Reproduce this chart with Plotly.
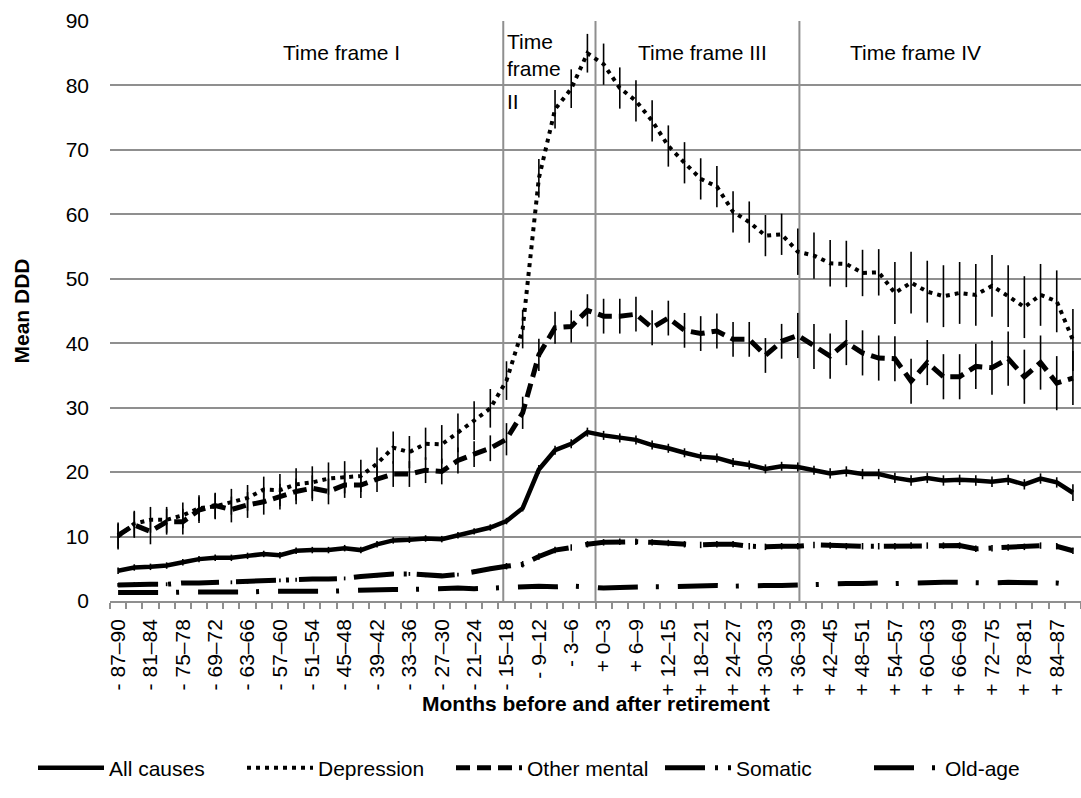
import plotly.graph_objects as go

# Three-month periods relative to retirement
periods = [
    "- 87–90", "- 84–87", "- 81–84", "- 78–81", "- 75–78", "- 72–75", "- 69–72", "- 66–69",
    "- 63–66", "- 60–63", "- 57–60", "- 54–57", "- 51–54", "- 48–51", "- 45–48", "- 42–45",
    "- 39–42", "- 36–39", "- 33–36", "- 30–33", "- 27–30", "- 24–27", "- 21–24", "- 18–21",
    "- 15–18", "- 12–15", "- 9–12", "- 6–9", "- 3–6", "- 0–3",
    "+ 0–3", "+ 3–6", "+ 6–9", "+ 9–12", "+ 12–15", "+ 15–18", "+ 18–21", "+ 21–24",
    "+ 24–27", "+ 27–30", "+ 30–33", "+ 33–36", "+ 36–39", "+ 39–42", "+ 42–45", "+ 45–48",
    "+ 48–51", "+ 51–54", "+ 54–57", "+ 57–60", "+ 60–63", "+ 63–66", "+ 66–69", "+ 69–72",
    "+ 72–75", "+ 75–78", "+ 78–81", "+ 81–84", "+ 84–87", "+ 87–90",
]

all_causes = [
    4.7, 5.2, 5.3, 5.5, 6.0, 6.5, 6.7, 6.7, 7.0, 7.3, 7.1, 7.8, 7.9, 7.9, 8.2, 7.9,
    8.8, 9.4, 9.5, 9.7, 9.6, 10.2, 10.8, 11.4, 12.4, 14.4, 20.4, 23.4, 24.4, 26.2,
    25.7, 25.3, 25.0, 24.2, 23.7, 23.0, 22.4, 22.2, 21.5, 21.1, 20.5, 20.9, 20.8, 20.3,
    19.8, 20.1, 19.7, 19.7, 19.1, 18.7, 19.1, 18.7, 18.8, 18.7, 18.5, 18.8, 18.1, 19.0,
    18.4, 16.8,
]
all_causes_err = [0.5] * 26 + [0.7] * 18 + [0.8] * 15 + [1.3]

depression = [
    10.0, 12.0, 12.6, 12.6, 13.3, 14.4, 14.7, 15.4, 16.0, 17.3, 17.2, 18.1, 18.4, 19.0,
    19.2, 19.4, 21.3, 23.8, 23.1, 24.4, 24.3, 26.1, 28.0, 29.9, 34.2, 42.2, 65.6, 76.3,
    79.5, 85.0, 83.3, 79.6, 77.6, 74.5, 70.6, 68.0, 65.5, 64.3, 60.4, 58.8, 56.7, 56.9,
    54.2, 53.6, 52.4, 52.3, 50.9, 51.0, 47.8, 49.4, 48.0, 47.3, 47.8, 47.5, 48.9, 47.3,
    45.6, 47.5, 46.5, 40.5,
]
depression_err = [2.0] * 10 + [2.5] * 10 + [3.0] * 10 + [3.2] * 12 + [3.6] * 6 + [4.8] * 12

other_mental = [
    10.2, 11.8, 10.8, 12.3, 12.3, 14.1, 14.8, 14.2, 14.9, 15.4, 16.2, 17.0, 17.5, 17.0,
    18.0, 18.0, 18.9, 19.7, 19.7, 20.3, 20.1, 21.8, 22.8, 23.7, 25.1, 29.2, 38.2, 42.4,
    42.6, 45.1, 44.2, 44.2, 44.5, 42.4, 43.9, 42.0, 41.5, 41.9, 40.6, 40.6, 38.1, 40.3,
    41.2, 39.5, 38.0, 40.1, 38.5, 37.7, 37.6, 34.1, 37.0, 34.8, 34.8, 36.4, 36.2, 37.6,
    34.8, 37.0, 33.8, 34.6,
]
other_mental_err = [2.0] * 24 + [2.5] * 6 + [2.7] * 12 + [3.5] * 12 + [4.2] * 6

somatic = [
    2.5, 2.6, 2.6, 2.6, 2.8, 2.8, 2.9, 2.9, 3.0, 3.1, 3.2, 3.3, 3.4, 3.4, 3.5, 3.8,
    4.0, 4.2, 4.2, 4.0, 3.9, 4.1, 4.6, 5.0, 5.4, 5.7, 6.9, 7.9, 8.3, 8.8, 9.1, 9.2,
    9.2, 9.1, 9.0, 8.8, 8.7, 8.8, 8.8, 8.5, 8.4, 8.5, 8.5, 8.7, 8.6, 8.5, 8.5, 8.5,
    8.5, 8.6, 8.6, 8.6, 8.6, 8.1, 8.2, 8.3, 8.4, 8.6, 8.5, 7.8,
]
somatic_err = [0.3] * 24 + [0.5] * 36

old_age = [
    1.3, 1.3, 1.2, 1.3, 1.4, 1.4, 1.3, 1.3, 1.4, 1.5, 1.5, 1.4, 1.4, 1.5, 1.6, 1.7,
    1.7, 1.8, 1.8, 1.9, 2.0, 2.0, 1.9, 2.0, 2.1, 2.2, 2.3, 2.2, 2.3, 2.2, 2.0, 2.1,
    2.2, 2.2, 2.2, 2.3, 2.3, 2.4, 2.3, 2.4, 2.4, 2.4, 2.5, 2.6, 2.6, 2.7, 2.7, 2.8,
    2.7, 2.8, 2.8, 2.9, 2.9, 2.8, 2.8, 2.9, 2.9, 2.9, 2.8, 2.5,
]

# Boundaries between the four time frames (in period-index units)
frame_bounds = [23.8, 29.5, 42.1]

FONT = "Liberation Sans, Arial, sans-serif"
GRID = "#8f8f8f"
PLOT_LEFT, PLOT_RIGHT = 110, 1081   # plot area columns in figure pixels
PLOT_TOP, PLOT_BOTTOM = 21, 601     # plot area rows in figure pixels

x = list(range(len(periods)))

series = [
    ("All causes", all_causes, all_causes_err, dict(width=4.5, dash="solid")),
    ("Depression", depression, depression_err, dict(width=4, dash="4px,5px")),
    ("Other mental", other_mental, other_mental_err, dict(width=5, dash="14px,7px")),
    ("Somatic", somatic, somatic_err, dict(width=5, dash="40px,10px,3px,10px,38px,17px")),
    ("Old-age", old_age, None, dict(width=5, dash="40px,18px,3px,19px")),
]

fig = go.Figure()
for name, vals, err, line in series:
    fig.add_trace(go.Scatter(
        x=x, y=vals, name=name, mode="lines",
        line=dict(color="black", **line),
        error_y=(dict(type="data", array=err, visible=True, color="black",
                      thickness=1.6, width=0) if err else None),
    ))

for b in frame_bounds:
    fig.add_shape(type="line", xref="x", yref="paper", x0=b, x1=b, y0=0, y1=1,
                  line=dict(color=GRID, width=2), layer="between")


def row_to_paper(row):
    return (PLOT_BOTTOM - row) / (PLOT_BOTTOM - PLOT_TOP)


def col_to_paper(col):
    return (col - PLOT_LEFT) / (PLOT_RIGHT - PLOT_LEFT)


# Frame captions; y given as pixel row from the top of the figure
labels = [
    dict(text="Time frame I", x=13.8, y=52, xanchor="center"),
    dict(text="Time<br>frame", x=23.9, y=55, xanchor="left"),
    dict(text="II", x=23.9, y=101, xanchor="left"),
    dict(text="Time frame III", x=36.1, y=52, xanchor="center"),
    dict(text="Time frame IV", x=49.3, y=52, xanchor="center"),
]
for lab in labels:
    y_val = row_to_paper(lab.pop("y"))
    fig.add_annotation(xref="x", yref="paper", y=y_val, yanchor="middle", showarrow=False,
                       align="left", font=dict(size=21, color="black", family=FONT), **lab)

# x-axis title
fig.add_annotation(text="<b>Months before and after retirement</b>", xref="paper", yref="paper",
                   x=0.5, y=row_to_paper(703), xanchor="center", yanchor="middle",
                   showarrow=False, font=dict(size=21, color="black", family=FONT))

fig.update_layout(
    width=1081, height=798,
    margin=dict(l=PLOT_LEFT, r=1081 - PLOT_RIGHT, t=PLOT_TOP, b=798 - PLOT_BOTTOM),
    paper_bgcolor="white", plot_bgcolor="white",
    font=dict(family=FONT, size=21, color="black"),
    showlegend=True,
    legend=dict(orientation="h", xref="paper", yref="paper",
                x=col_to_paper(33), xanchor="left", y=row_to_paper(768), yanchor="middle",
                font=dict(size=21), itemwidth=66, tracegroupgap=0,
                entrywidth=128, entrywidthmode="pixels"),
)

fig.update_xaxes(
    range=[-0.5, 59.5],
    tickmode="array", tickvals=x[::2], ticktext=periods[::2],
    tickangle=-90, ticks="", ticklabelstandoff=8,
    tickfont=dict(size=21),
    showgrid=False, zeroline=False,
    showline=True, linecolor=GRID, linewidth=1.5,
    minor=dict(tickmode="array", tickvals=[i - 0.5 for i in range(len(periods) + 1)],
               ticks="outside", ticklen=6, tickcolor=GRID, tickwidth=1.5, showgrid=False),
)
fig.update_yaxes(
    range=[0, 90], dtick=10, tick0=0,
    showgrid=True, gridcolor=GRID, gridwidth=1.5,
    zeroline=False, showline=False, ticks="",
    ticklabelstandoff=20, tickfont=dict(size=21),
    title=dict(text="<b>Mean DDD</b>", font=dict(size=21), standoff=30),
)

fig.write_html("out.html")
